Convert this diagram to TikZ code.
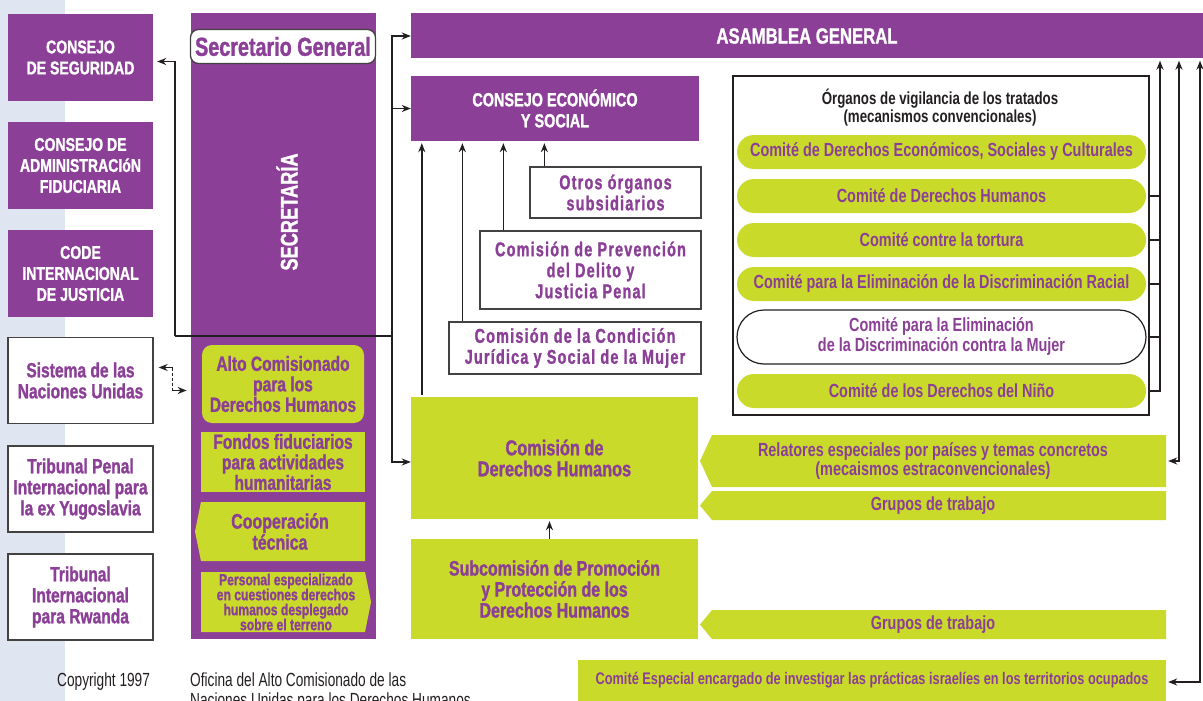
\documentclass[tikz,border=0pt]{standalone}
\usepackage{fontspec}
\setmainfont{Liberation Sans}
\newfontfamily\hv{Liberation Sans}[FakeStretch=0.76]
\newfontfamily\hvb{Liberation Sans}[FakeStretch=0.76,FakeBold=1.2]
\newfontfamily\hvs{Liberation Sans}[FakeStretch=0.72,LetterSpace=6,FakeBold=1.2]
\newfontfamily\hvr{Liberation Sans}[FakeStretch=0.72]
\usepackage{tikz}
\usetikzlibrary{calc,positioning,arrows.meta}
\definecolor{unpurple}{HTML}{8C3F97}
\definecolor{unlime}{HTML}{C9DA2A}
\definecolor{unstrip}{HTML}{DFE6F1}
\definecolor{ink}{HTML}{231F20}
\newcommand{\fsz}[2]{\fontsize{#1}{#2}\selectfont}

\begin{document}
\begin{tikzpicture}[x=1pt,y=-1pt,>={Stealth[length=9pt,width=7pt]},
  purplebox/.style={fill=unpurple,text=white,align=center,inner sep=0pt,font=\hvb\bfseries\fsz{18.5}{21}},
  whitebox/.style={fill=white,draw=ink!85,line width=1.3,text=unpurple,align=center,inner sep=0pt,font=\hvb\bfseries\fsz{20.5}{21}},
  limebox/.style={fill=unlime,text=unpurple,align=center,inner sep=0pt,font=\hvb\bfseries\fsz{20.5}{20.5}},
  pill/.style={limebox,rounded corners=17,minimum width=409,minimum height=34,font=\hv\bfseries\fsz{19}{20}},
  tagtext/.style={text=unpurple,align=center,inner sep=0pt,font=\hv\bfseries\fsz{19}{19}},
  conn/.style={draw=ink,line width=1.5},
  arr/.style={conn,->}]
  \useasboundingbox (0,0) rectangle (1203,701);
  \fill[unstrip] (0,0) rectangle (65,701);

  \node[purplebox,minimum width=145,minimum height=87] (cs) at (80.5,57.5) {CONSEJO\\DE SEGURIDAD};
  \node[purplebox,minimum width=145,minimum height=87] (caf) at (80.5,165.5) {CONSEJO DE\\ADMINISTRACIóN\\FIDUCIARIA};
  \node[purplebox,minimum width=145,minimum height=87] (cij) at (80.5,273.5) {CODE\\INTERNACIONAL\\DE JUSTICIA};
  \node[whitebox,minimum width=145,minimum height=86] (sis) at (80.5,380.5) {Sistema de las\\Naciones Unidas};
  \node[whitebox,minimum width=145,minimum height=86] (tpy) at (80.5,489) {Tribunal Penal\\Internacional para\\la ex Yugoslavia};
  \node[whitebox,minimum width=145,minimum height=86] (tpr) at (80.5,597) {Tribunal\\Internacional\\para Rwanda};

  \node[purplebox,minimum width=185,minimum height=626] (secr) at (283.5,326) {};
  \node[whitebox,rounded corners=8,minimum width=185,minimum height=34,font=\hvb\bfseries\fsz{26}{26}] (sg) at (283,46.5) {Secretario General};
  \node[rotate=90,text=white,inner sep=0pt,font=\hvb\bfseries\fsz{24}{24}] (secrlbl) at (287,212) {SECRETARÍA};
  \node[limebox,rounded corners=10,minimum width=162,minimum height=78] (alto) at (283,384) {Alto Comisionado\\para los\\Derechos Humanos};
  \node[limebox,minimum width=164,minimum height=60] (fondos) at (283,462) {Fondos fiduciarios\\para actividades\\humanitarias};
  \fill[unlime] (201,502) -- (365,502) -- (365,561) -- (201,561) -- (195,531.5) -- cycle;
  \fill[unlime] (201,572) -- (365,572) -- (371,602) -- (365,632) -- (201,632) -- cycle;
  \node[tagtext,minimum width=170,minimum height=59,font=\hvb\bfseries\fsz{21}{21}] (coop) at (280,531.5) {Cooperación\\técnica};
  \node[tagtext,minimum width=170,minimum height=60,font=\hvb\bfseries\fsz{16}{15}] (pers) at (286,602) {Personal especializado\\en cuestiones derechos\\humanos desplegado\\sobre el terreno};

  \node[purplebox,minimum width=792,minimum height=45,font=\hvb\bfseries\fsz{22}{22}] (ag) at (807,36) {ASAMBLEA GENERAL};
  \node[purplebox,minimum width=288,minimum height=65,font=\hvb\bfseries\fsz{19}{21}] (ecosoc) at (555,108.5) {CONSEJO ECONÓMICO\\Y SOCIAL};
  \node[whitebox,minimum width=171,minimum height=51,font=\hvs\bfseries\fsz{20}{21}] (otros) at (615.5,192.5) {Otros órganos\\subsidiarios};
  \node[whitebox,minimum width=221,minimum height=78,font=\hvs\bfseries\fsz{20}{21}] (cprev) at (590.5,270) {Comisión de Prevención\\del Delito y\\Justicia Penal};
  \node[whitebox,minimum width=252,minimum height=52,font=\hvs\bfseries\fsz{20}{21}] (cmuj) at (575,348) {Comisión de la Condición\\Jurídica y Social de la Mujer};
  \node[limebox,minimum width=287,minimum height=122,font=\hvb\bfseries\fsz{21.5}{21}] (cdh) at (554.5,458) {Comisión de\\Derechos Humanos};
  \node[limebox,minimum width=287,minimum height=100,font=\hvb\bfseries\fsz{21}{21}] (sub) at (554.5,589) {Subcomisión de Promoción\\y Protección de los\\Derechos Humanos};

  \node[draw=ink,line width=2,fill=white,minimum width=416,minimum height=339] (org) at (941,245.5) {};
  \node[text=ink,align=center,inner sep=0pt,font=\hv\bfseries\fsz{17.5}{18}] (orghdr) at (940,108) {Órganos de vigilancia de los tratados\\(mecanismos convencionales)};
  \node[pill] (comdesc) at (941.5,152) {Comité de Derechos Económicos, Sociales y Culturales};
  \node[pill] (comdh) at (941.5,196) {Comité de Derechos Humanos};
  \node[pill] (comtort) at (941.5,240) {Comité contre la tortura};
  \node[pill] (comracial) at (941.5,284) {Comité para la Eliminación de la Discriminación Racial};
  \node[pill,fill=white,draw=ink,line width=1.2,rounded corners=27,minimum height=54] (commujer) at (941.5,337) {Comité para la Eliminación\\de la Discriminación contra la Mujer};
  \node[pill] (comnino) at (941.5,391) {Comité de los Derechos del Niño};

  \fill[unlime] (712,435) -- (1166,435) -- (1166,487) -- (712,487) -- (700,461) -- cycle;
  \fill[unlime] (712,491) -- (1166,491) -- (1166,520) -- (712,520) -- (700,505.5) -- cycle;
  \fill[unlime] (712,610) -- (1166,610) -- (1166,639) -- (712,639) -- (700,624.5) -- cycle;
  \node[tagtext,minimum width=466,minimum height=52] (rel) at (933,461) {Relatores especiales por países y temas concretos\\(mecaismos estraconvencionales)};
  \node[tagtext,minimum width=466,minimum height=29] (grupos) at (933,505.5) {Grupos de trabajo};
  \node[tagtext,minimum width=466,minimum height=29] (gruposb) at (933,624.5) {Grupos de trabajo};
  \node[limebox,minimum width=588,minimum height=41,font=\hv\bfseries\fsz{16.8}{17}] (ce) at (872,680.5) {Comité Especial encargado de investigar las prácticas israelíes en los territorios ocupados};

  \node[anchor=north west,inner sep=0pt,text=ink,font=\hvr\fsz{19}{20}] (copy) at (57,673) {Copyright 1997};
  \node[anchor=north west,inner sep=0pt,align=left,text=ink,font=\hvr\fsz{19}{20}] (ofic) at (190,673) {Oficina del Alto Comisionado de las\\Naciones Unidas para los Derechos Humanos};

  \coordinate (trunk) at (392,336);
  \coordinate (cskink) at (175,336);
  \coordinate (rva) at (1160,389);
  \coordinate (rvb) at (1179,461);
  \coordinate (rvc) at (1200,682);
  \draw[conn] (trunk) -- (cskink);
  \draw[arr] (cskink) |- ([xshift=4,yshift=-4]cs.east);
  \draw[arr] (trunk) |- (ag.west);
  \draw[arr] (trunk) |- (ecosoc.west);
  \draw[arr] (trunk) |- ([yshift=-4]cdh.west);
  \draw[arr] ([xshift=11,yshift=2]cdh.north west) -- ([xshift=11,yshift=-2]cdh.north west |- ecosoc.south);
  \draw[arr] ([xshift=14]cmuj.north west) -- ([xshift=14,yshift=-2]cmuj.north west |- ecosoc.south);
  \draw[arr] ([xshift=24]cprev.north west) -- ([xshift=24,yshift=-2]cprev.north west |- ecosoc.south);
  \draw[arr] ([xshift=15]otros.north west) -- ([xshift=15,yshift=-2]otros.north west |- ecosoc.south);
  \draw[arr] ([xshift=-5]sub.north) -- ([xshift=-5,yshift=-2]cdh.south);

  \coordinate (sda) at ([yshift=13,xshift=5]sis.east);
  \coordinate (sdb) at ([yshift=13,xshift=19]sis.east);
  \coordinate (sdc) at ([yshift=-10,xshift=19]sis.east);
  \coordinate (sdd) at ([yshift=-10,xshift=33]sis.east);
  \draw[conn,<-] (sda) -- (sdb);
  \draw[conn,dash pattern=on 3 off 2] (sdb) -- (sdc);
  \draw[arr] (sdc) -- (sdd);

  \draw[arr] (comnino.east -| org.east) -| ([yshift=-2]ag.south -| rva);
  \draw[conn] (comdh.east -| org.east) -- (comdh.east -| rva);
  \draw[conn] (comtort.east -| org.east) -- (comtort.east -| rva);
  \draw[conn] (comracial.east -| org.east) -- (comracial.east -| rva);
  \draw[conn] (commujer.east -| org.east) -- (commujer.east -| rva);
  \draw[conn,<->] ([xshift=2]rel.east) -| ([yshift=-2]ag.south -| rvb);
  \draw[conn,<->] ([xshift=2,yshift=-1.5]ce.east) -| ([yshift=-2]ag.south -| rvc);
\end{tikzpicture}
\end{document}
